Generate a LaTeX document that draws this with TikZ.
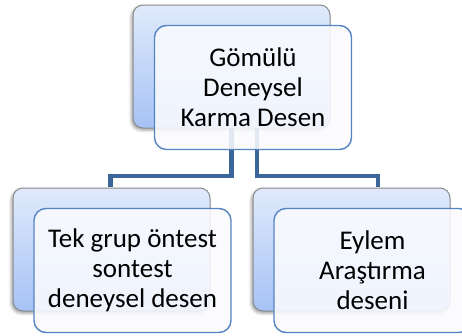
\documentclass[tikz,border=0pt]{standalone}
\usepackage{fontspec}
\setmainfont{Carlito}
\usetikzlibrary{shadows.blur}

\definecolor{linkblue}{HTML}{3B6699}
\definecolor{frontedge}{HTML}{5584C2}
\definecolor{frontfill}{HTML}{FAFBFE}
\definecolor{backtop}{HTML}{E0EAFB}
\definecolor{backbottom}{HTML}{A6C2F5}
\definecolor{backedge}{HTML}{8A8A8A}

\tikzset{
  backbox/.style={rectangle, rounded corners=10pt, minimum width=197pt,
    minimum height=123pt, inner sep=0pt, draw=backedge, line width=1pt,
    top color=backtop, bottom color=backbottom,
    blur shadow={shadow xshift=-1.5pt, shadow yshift=-2pt,
      shadow blur radius=3pt, shadow opacity=40}},
  frontbox/.style={rectangle, rounded corners=12pt, minimum width=197pt,
    minimum height=124pt, inner sep=0pt, draw=frontedge, line width=1.4pt,
    fill=frontfill, fill opacity=0.88, text opacity=1, align=center,
    font=\fontsize{27}{30}\selectfont},
  link/.style={draw=linkblue, line width=4.5pt}
}

\begin{document}
\begin{tikzpicture}[x=1pt, y=-1pt]
  \useasboundingbox (0,0) rectangle (462,335);
  \clip (0,0) rectangle (462,335);

  % junction points of the elbow connectors
  \coordinate (lt) at (231.5,128);
  \coordinate (jl) at (110.5,176);
  \coordinate (lj) at (110.5,187);
  \coordinate (rt) at (257,128);
  \coordinate (rj) at (378,187);

  % connectors, drawn under the boxes
  \draw[link] (lt) -- (lt |- jl) -| (lj);
  \draw[link] (rt) -- (rt |- jl) -| (rj);

  % parent
  \node[backbox] (pb) at (231.5,66.5) {};
  \node[frontbox] (p) at (253,87.5) {Gömülü\\Deneysel\\Karma Desen};

  % left child
  \node[backbox] (lb) at (111.5,249.5) {};
  \node[frontbox] (l) at (132.5,270.5) {Tek grup öntest\\sontest\\deneysel desen};

  % right child
  \node[backbox] (rb) at (351.5,249.5) {};
  \node[frontbox] (r) at (372.5,270.5) {Eylem\\Araştırma\\deseni};
\end{tikzpicture}
\end{document}
